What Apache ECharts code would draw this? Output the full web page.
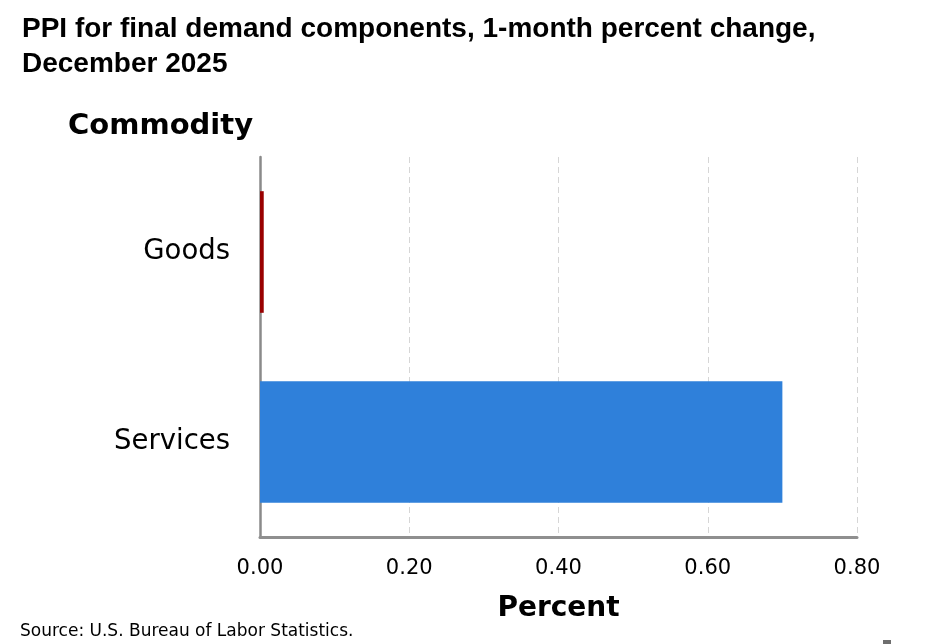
<!DOCTYPE html>
<html>
<head>
<meta charset="utf-8">
<script src="https://cdn.jsdelivr.net/npm/echarts@6/dist/echarts.min.js"></script>
<style>
html,body{margin:0;padding:0;background:#fff;}
#chart{width:936px;height:644px;}
</style>
</head>
<body>
<div id="chart"></div>
<script>
const categories = ['Goods', 'Services'];
const values = [0.005, 0.70];
const barColors = ['#990000', '#2F80DA'];
const xTicks = { min: 0, max: 0.8, interval: 0.2 };
const titleText = 'PPI for final demand components, 1-month percent change,\nDecember 2025';
const yAxisTitle = 'Commodity';
const xAxisTitle = 'Percent';
const sourceText = 'Source: U.S. Bureau of Labor Statistics.';

const chart = echarts.init(document.getElementById('chart'), null, { renderer: 'canvas' });
chart.setOption({
  animation: false,
  backgroundColor: '#ffffff',
  title: [
    {
      text: titleText,
      left: 17, top: 7,
      textStyle: { fontFamily: 'Liberation Sans', fontWeight: 'bold', fontSize: 28, color: '#000', lineHeight: 35 }
    },
    {
      text: yAxisTitle,
      left: 63, top: 107,
      textStyle: { fontFamily: 'DejaVu Sans', fontWeight: 'bold', fontSize: 29, color: '#000' }
    },
    {
      text: sourceText,
      left: 15, top: 618,
      textStyle: { fontFamily: 'DejaVu Sans', fontWeight: 'normal', fontSize: 17, color: '#000' }
    }
  ],
  grid: { left: 260, right: 79, top: 157, bottom: 107, containLabel: false },
  xAxis: {
    type: 'value',
    min: xTicks.min, max: xTicks.max, interval: xTicks.interval,
    name: xAxisTitle,
    nameLocation: 'middle',
    nameGap: 58,
    nameTextStyle: { fontFamily: 'DejaVu Sans', fontWeight: 'bold', fontSize: 28, color: '#000' },
    axisLine: { show: true, lineStyle: { color: '#8f8f8f', width: 3 } },
    axisTick: { show: false },
    axisLabel: {
      fontFamily: 'DejaVu Sans', fontSize: 21, color: '#000', margin: 21,
      formatter: v => v.toFixed(2)
    },
    splitLine: { show: true, lineStyle: { color: '#d6d6d6', type: [6, 4], width: 1 } }
  },
  yAxis: {
    type: 'category',
    data: categories,
    inverse: true,
    axisLine: { show: true, lineStyle: { color: '#8a8a8a', width: 2.5 } },
    axisTick: { show: false },
    axisLabel: { fontFamily: 'DejaVu Sans', fontSize: 27.5, color: '#000', margin: 30 },
    splitLine: { show: false }
  },
  series: [{
    type: 'bar',
    data: values.map((v, i) => ({ value: v, itemStyle: { color: barColors[i] } })),
    barWidth: '64%',
    itemStyle: { borderWidth: 0 }
  }],
  graphic: [
    { type: 'rect', left: 883, top: 640, shape: { width: 8, height: 4 }, style: { fill: '#6e6e6e' } }
  ]
});
</script>
</body>
</html>
